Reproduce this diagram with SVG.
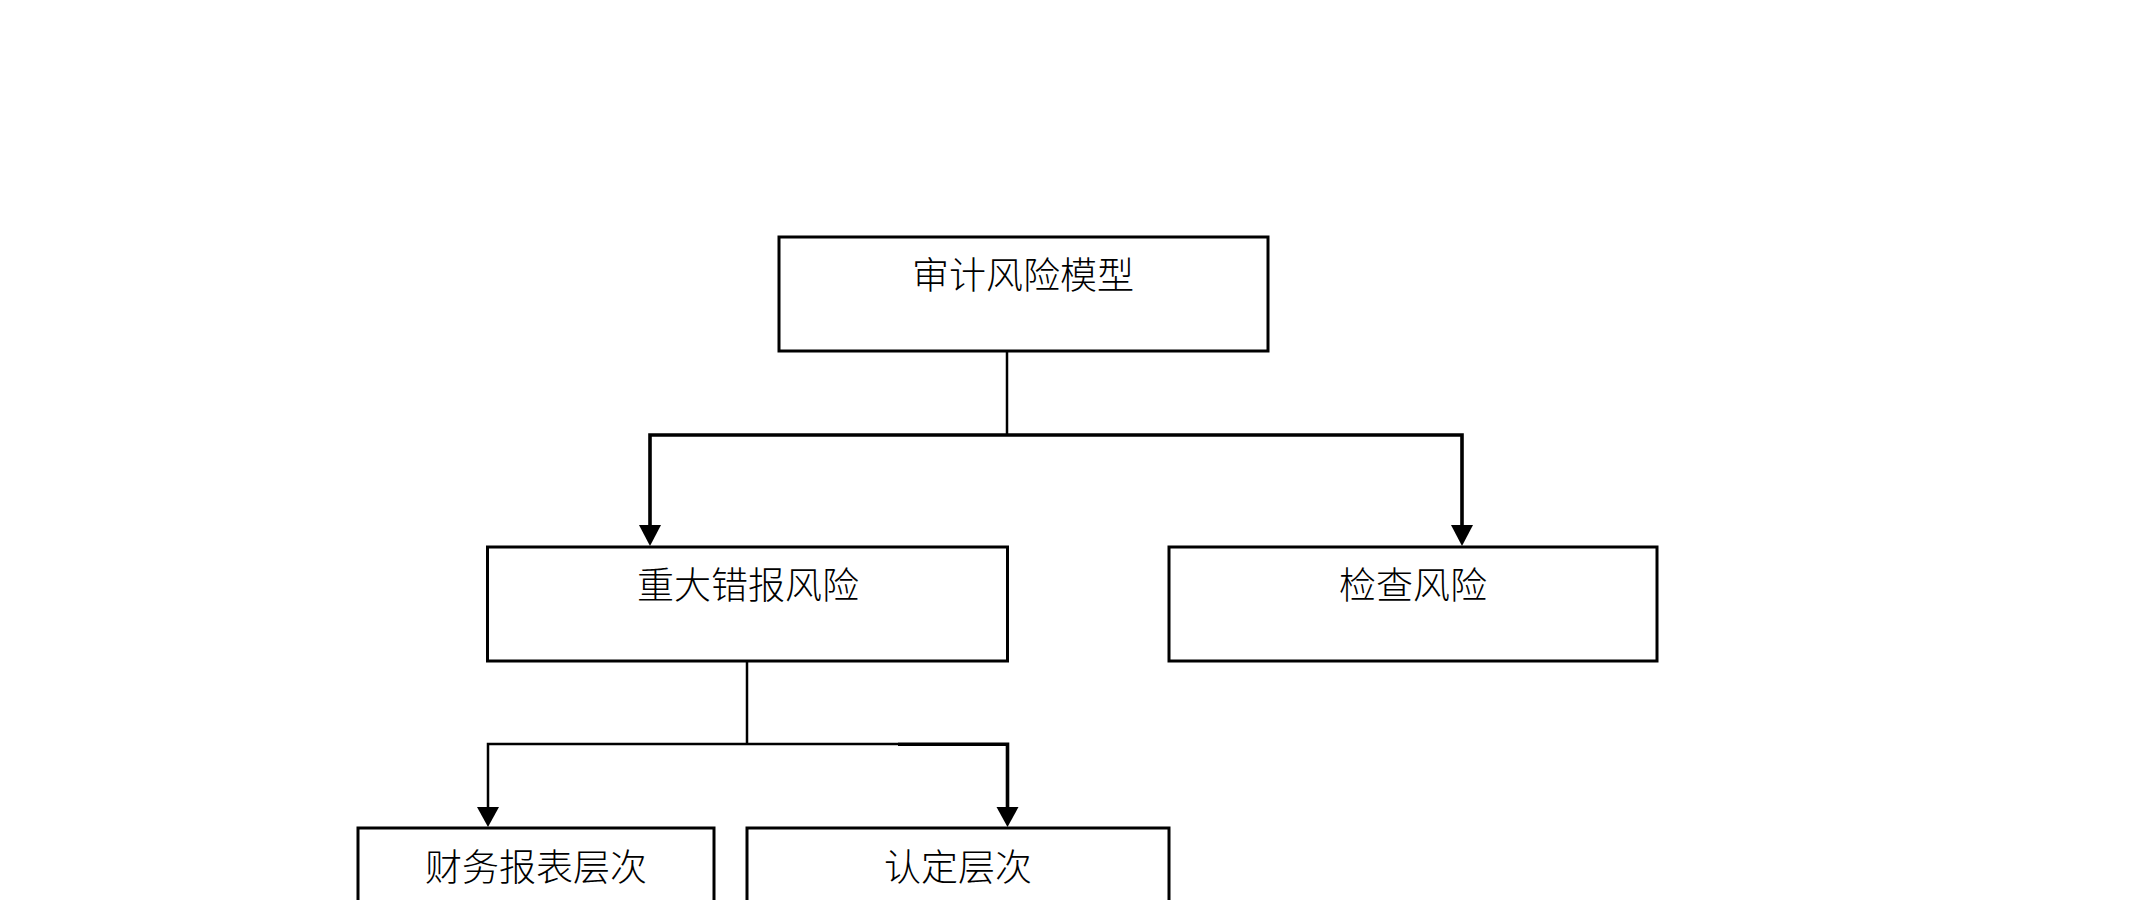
<svg xmlns="http://www.w3.org/2000/svg" width="2149" height="900" viewBox="0 0 2149 900">
  <style>
    .box { fill: #ffffff; stroke: #000000; stroke-width: 3; }
    .lbl { font-family: "Noto Sans CJK SC", "Noto Sans", sans-serif; font-size: 37px; font-weight: 300; fill: #000000; text-anchor: middle; }
    .thin { fill: none; stroke: #000000; stroke-width: 2.5; }
    .thick { fill: none; stroke: #000000; stroke-width: 3.6; }
    .head { fill: #000000; }
  </style>
  <rect width="2149" height="900" fill="#ffffff"/>
  <g id="connectors">
    <line class="thin" x1="1007" y1="351" x2="1007" y2="435"/>
    <polyline class="thick" points="650,527 650,435 1462,435 1462,527"/>
    <polygon class="head" points="639,525 661,525 650,546"/>
    <polygon class="head" points="1451,525 1473,525 1462,546"/>
    <line class="thin" x1="747" y1="661" x2="747" y2="744"/>
    <polyline class="thin" points="488,809 488,744 898,744"/>
    <polyline class="thick" points="898,744.3 1007.5,744.3 1007.5,809"/>
    <polygon class="head" points="477,807 499,807 488,827"/>
    <polygon class="head" points="996.5,807 1018.5,807 1007.5,827"/>
  </g>
  <g id="node-audit-risk-model">
    <rect class="box" x="779" y="237" width="489" height="114"/>
    <text class="lbl" x="1023" y="289">审计风险模型</text>
  </g>
  <g id="node-material-misstatement">
    <rect class="box" x="487.5" y="547" width="520" height="114"/>
    <text class="lbl" x="748" y="599">重大错报风险</text>
  </g>
  <g id="node-detection-risk">
    <rect class="box" x="1169" y="547" width="488" height="114"/>
    <text class="lbl" x="1413" y="599">检查风险</text>
  </g>
  <g id="node-statement-level">
    <rect class="box" x="358" y="828" width="356" height="100"/>
    <text class="lbl" x="536" y="881">财务报表层次</text>
  </g>
  <g id="node-assertion-level">
    <rect class="box" x="747" y="828" width="422" height="100"/>
    <text class="lbl" x="958" y="881">认定层次</text>
  </g>
</svg>
